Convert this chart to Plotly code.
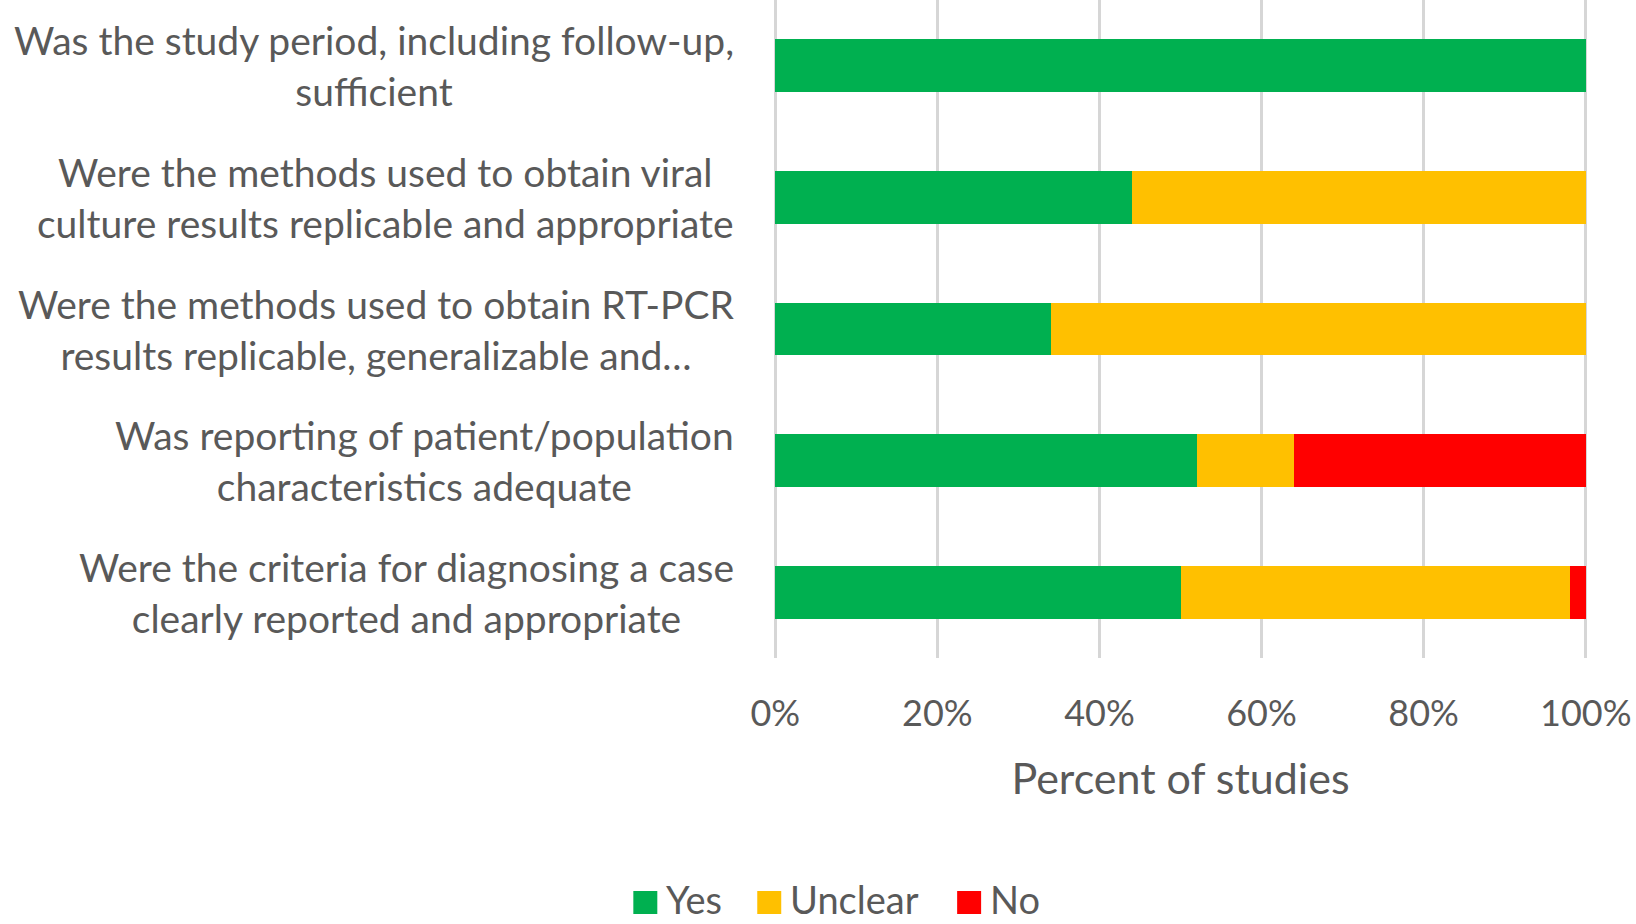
import plotly.graph_objects as go

categories = [
    "Was the study period, including follow-up,<br>sufficient",
    "Were the methods used to obtain viral<br>culture results replicable and appropriate",
    "Were the methods used to obtain RT-PCR<br>results replicable, generalizable and…",
    "Was reporting of patient/population<br>characteristics adequate",
    "Were the criteria for diagnosing a case<br>clearly reported and appropriate",
]
series_names = ["Yes", "Unclear", "No"]
yes_vals = [1.00, 0.44, 0.34, 0.52, 0.50]
unclear_vals = [0.00, 0.56, 0.66, 0.12, 0.48]
no_vals = [0.00, 0.00, 0.00, 0.36, 0.02]
x_ticks = [0, 0.2, 0.4, 0.6, 0.8, 1.0]
x_tick_labels = ["0%", "20%", "40%", "60%", "80%", "100%"]
colors = ["#00B050", "#FFC000", "#FF0000"]

W, H = 1636, 924
PAD = 0.004                      # small range padding so edge gridlines show
X0_PX, X1_PX = 775, 1586         # pixel positions of 0% and 100%
UNIT = X1_PX - X0_PX
ML = X0_PX - PAD * UNIT
PW = UNIT * (1 + 2 * PAD)
MR = W - ML - PW
MT, MB = 0, 266
PH = H - MT - MB

def px_x(px):
    return (px - ML) / PW

def px_y(py):
    return (H - MB - py) / PH

TEXT = "#595959"
FONT = "Lato"

fig = go.Figure()
for name, vals, col in zip(series_names, [yes_vals, unclear_vals, no_vals], colors):
    fig.add_trace(go.Bar(
        y=categories, x=vals, name=name, orientation="h",
        marker=dict(color=col, line=dict(width=0)), width=0.4,
        showlegend=False, hoverinfo="x+y+name",
    ))

annotations = []
for cat in categories:
    annotations.append(dict(
        x=px_x(735), xref="paper", y=cat, yref="y",
        text=cat, showarrow=False, xanchor="right", yanchor="middle",
        align="center", borderpad=0,
        font=dict(family=FONT, size=39, color=TEXT),
    ))

# manual legend
leg_x = [633, 757, 957]
shapes = []
for name, col, lx in zip(series_names, colors, leg_x):
    shapes.append(dict(type="rect", xref="paper", yref="paper",
                       x0=px_x(lx), x1=px_x(lx + 24), y0=px_y(891), y1=px_y(914),
                       fillcolor=col, line=dict(width=0)))
    annotations.append(dict(x=px_x(lx + 32), xref="paper", y=px_y(899), yref="paper",
                            text=name, showarrow=False, xanchor="left", yanchor="middle",
                            borderpad=0,
                            font=dict(family=FONT, size=38, color=TEXT)))

fig.update_layout(
    width=W, height=H,
    margin=dict(l=ML, r=MR, t=MT, b=MB),
    barmode="stack",
    plot_bgcolor="white", paper_bgcolor="white",
    font=dict(family=FONT, color=TEXT),
    showlegend=False,
    annotations=annotations,
    shapes=shapes,
    xaxis=dict(
        range=[-PAD, 1 + PAD], tickvals=x_ticks, ticktext=x_tick_labels,
        showgrid=True, gridcolor="#D6D6D6", gridwidth=2.5, zeroline=False,
        showline=False, ticks="", ticklabelstandoff=31,
        tickfont=dict(family=FONT, size=36, color=TEXT),
        title=dict(text="Percent of studies", font=dict(family=FONT, size=43, color=TEXT), standoff=30),
    ),
    yaxis=dict(
        type="category", categoryarray=categories, categoryorder="array",
        range=[4.5, -0.5], showticklabels=False, showgrid=False, zeroline=False,
        showline=False, ticks="",
    ),
)

fig.write_html("out.html")
